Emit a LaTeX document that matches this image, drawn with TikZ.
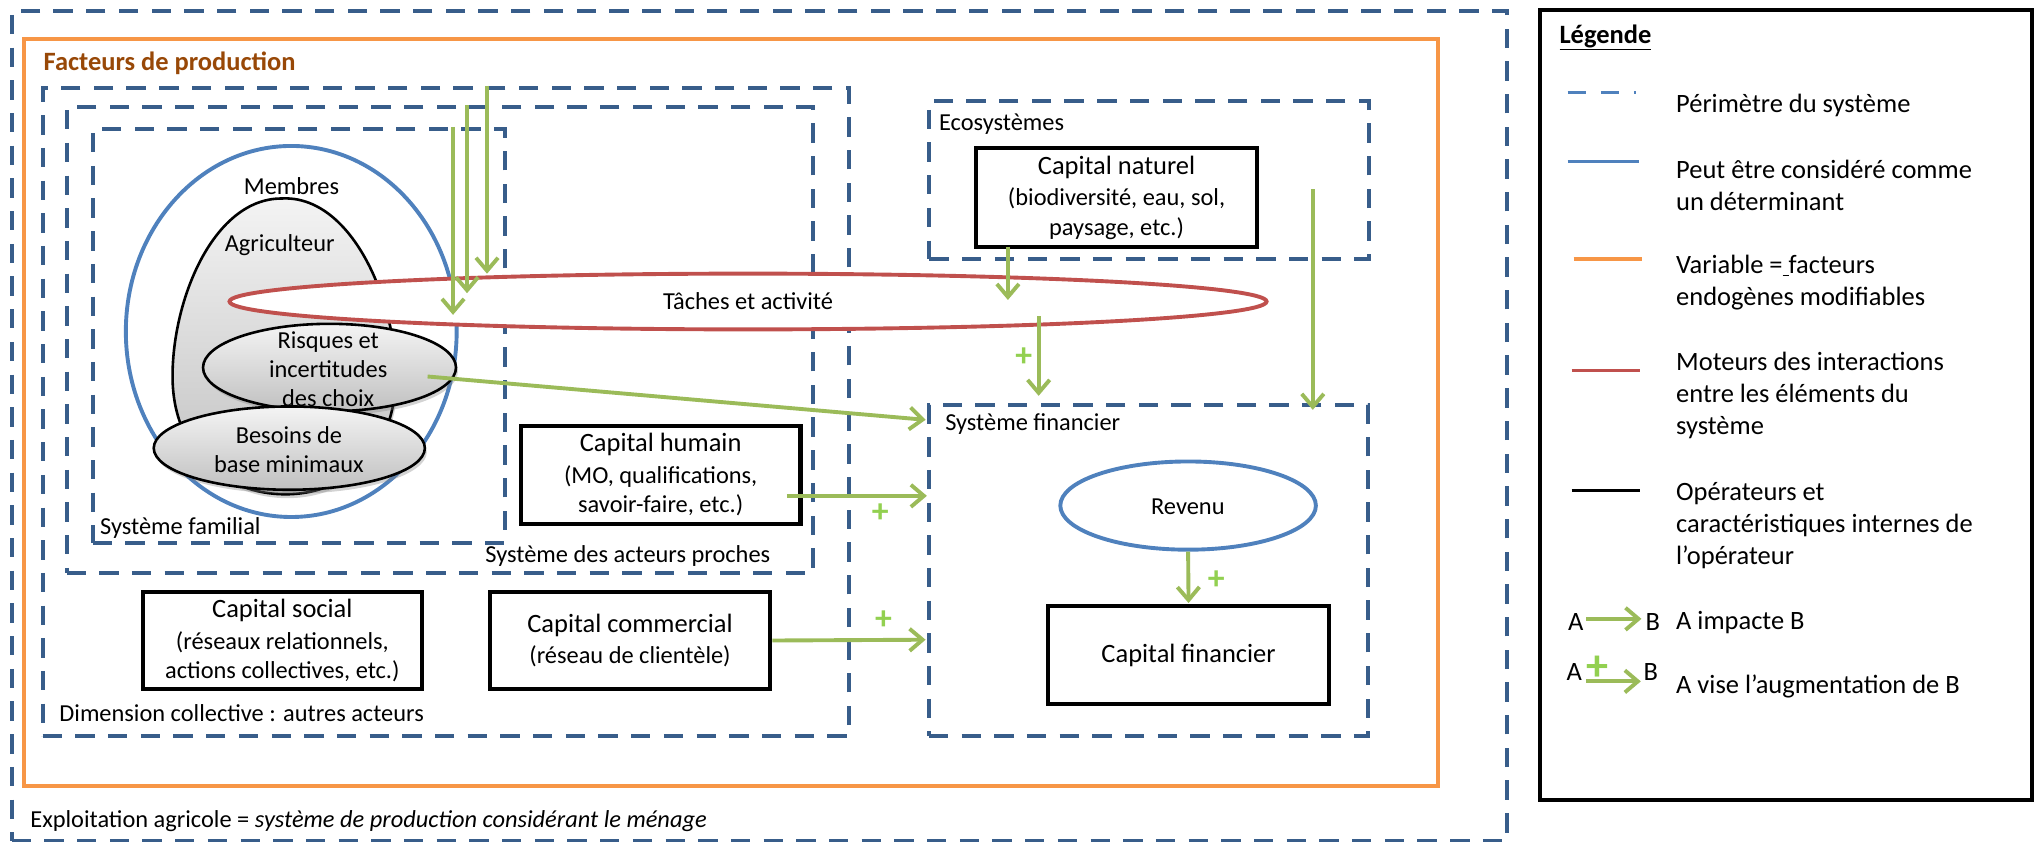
\documentclass[tikz,border=0pt]{standalone}
\usepackage{fontspec}
\setmainfont{Carlito}
\usetikzlibrary{arrows.meta,shapes.geometric,calc,shadows}
\definecolor{navy}{RGB}{56,93,138}
\definecolor{blueE}{RGB}{79,129,189}
\definecolor{orangeF}{RGB}{247,150,70}
\definecolor{redM}{RGB}{192,80,77}
\definecolor{greenA}{RGB}{155,187,89}
\definecolor{plusG}{RGB}{146,208,80}
\definecolor{brownT}{RGB}{152,72,7}
\definecolor{gTop}{RGB}{244,244,244}
\definecolor{gBot}{RGB}{192,192,192}
\newcommand\ttlf{\fontsize{20.4}{24}\selectfont}
\newcommand\subf{\fontsize{18.8}{22.5}\selectfont}
\newcommand\legf{\fontsize{20.4}{24.6}\selectfont}
\tikzset{
  dbox/.style={rectangle, draw=navy, line width=3.1pt, dash pattern=on 14.9pt off 10.3pt, inner sep=0pt},
  bbox/.style={rectangle, draw=black, line width=3.2pt, fill=white, inner sep=0pt, align=center, font=\subf},
  gshadow/.style={drop shadow={shadow xshift=1.5pt, shadow yshift=-3pt, opacity=0.35}},
  gell/.style={ellipse, draw=black, line width=2pt, top color=gTop, bottom color=gBot, inner sep=0pt, gshadow},
  garr/.style={draw=greenA, line width=3pt, -{Straight Barb[length=10pt,width=17pt]}},
  plussign/.style={text=plusG, inner sep=0pt, font=\fontsize{26}{26}\selectfont\bfseries},
  lbl/.style={inner sep=0pt, font=\subf},
  legtxt/.style={inner sep=0pt, anchor=west, align=left, font=\legf},
}
\begin{document}
\begin{tikzpicture}[x=1pt,y=-1pt]
\useasboundingbox (0,0) rectangle (1568.6,649);
% ---- frames
\node[dbox, minimum width=1152.4pt, minimum height=640.3pt] (outer) at (585.2,328.35) {};
\node[rectangle, draw=orangeF, line width=2.7pt, minimum width=1090.1pt, minimum height=576pt, inner sep=0pt] (fact) at (563.55,318) {};
\node[dbox, minimum width=621.3pt, minimum height=500.1pt] (dim) at (343.55,317.55) {};
\node[dbox, minimum width=575.4pt, minimum height=359pt] (sap) at (339,262.2) {};
\node[dbox, minimum width=317.5pt, minimum height=319.3pt] (sfam) at (230.25,258.95) {};
\node[dbox, minimum width=338.6pt, minimum height=122.2pt] (eco) at (885.7,138.7) {};
\node[dbox, minimum width=338.5pt, minimum height=255.6pt] (sfin) at (885.25,439.8) {};
\node[rectangle, draw=black, line width=2.8pt, minimum width=379.5pt, minimum height=608.7pt, inner sep=0pt] (leg) at (1376.75,312.05) {};
% ---- family system
\node[ellipse, draw=blueE, line width=3pt, minimum width=255pt, minimum height=286pt, inner sep=0pt] (memb) at (224.5,255.5) {};
\path[draw=black, line width=2pt, top color=gTop, bottom color=gBot, gshadow]
  (217,153) .. controls (270,150) and (305,230) .. (305,290)
  .. controls (305,350) and (265,381) .. (220,381)
  .. controls (175,381) and (133,350) .. (133,290)
  .. controls (133,230) and (165,153) .. (217,153) -- cycle;
\node[lbl] (tmemb) at (224.7,143.5) {Membres};
\node[lbl] (tagri) at (215.6,189) {Agriculteur};
\node[ellipse, draw=redM, line width=3pt, fill=white, minimum width=799.4pt, minimum height=43pt, inner sep=0pt, font=\subf] (taches) at (576.6,232.4) {T\^aches et activit\'e};
\node[gell, minimum width=195pt, minimum height=67.4pt] (risk) at (254,283.3) {};
\node[lbl, align=center] (trisk) at (253,284.5) {Risques et\\incertitudes\\des choix};
\node[gell, minimum width=209pt, minimum height=64.2pt] (bes) at (223,345.4) {};
\node[lbl, align=center] (tbes) at (222.7,346.7) {Besoins de\\base minimaux};
% ---- capital boxes
\node[bbox, minimum width=216.3pt, minimum height=75.8pt] (cn) at (860.65,152.2) {{\ttlf Capital naturel}\\[2pt](biodiversité, eau, sol,\\paysage, etc.)};
\node[bbox, minimum width=215.5pt, minimum height=75.8pt] (ch) at (509.25,366.1) {{\ttlf Capital humain}\\[2pt](MO, qualifications,\\savoir-faire, etc.)};
\node[bbox, minimum width=215.5pt, minimum height=74.2pt] (cs) at (217.65,493.7) {{\ttlf Capital social}\\[2pt](réseaux relationnels,\\actions collectives, etc.)};
\node[bbox, minimum width=216.4pt, minimum height=74.2pt] (cc) at (485.6,493.7) {{\ttlf Capital commercial}\\[2pt](réseau de clientèle)};
\node[bbox, minimum width=216.5pt, minimum height=75pt, font=\ttlf] (cf) at (916.15,504.9) {Capital financier};
\node[ellipse, draw=blueE, line width=3pt, fill=white, minimum width=197pt, minimum height=68pt, inner sep=0pt] (rev) at (915.8,389.7) {};
\node[lbl] (trev) at (915.6,390.5) {Revenu};
% ---- labels
\node[inner sep=0pt, anchor=west, text=brownT, font=\ttlf\bfseries] (tfact) at (33.4,48.8) {Facteurs de production};
\node[lbl, anchor=west] (tsfam) at (77,407) {Système familial};
\node[lbl] (tsap) at (483.9,428.9) {Système des acteurs proches};
\node[lbl, anchor=west] (tdim) at (45.6,549.6) {Dimension collective : autres acteurs};
\node[lbl, anchor=west] (teco) at (723.7,95.5) {Ecosystèmes};
\node[lbl, anchor=west] (tsfin) at (728.4,326.7) {Système financier};
\node[lbl, anchor=west] (texp) at (23.2,633) {Exploitation agricole = \textit{système de production considérant le ménage}};
% ---- arrows
\coordinate (t1) at (349.2,242.7);
\coordinate (t2) at (360,226);
\coordinate (t3) at (375.4,211);
\draw[garr] (t1 |- sfam.north) -- (t1);
\draw[garr] (t2 |- sap.north) -- (t2);
\draw[garr] (t3 |- dim.north) -- (t3);
\coordinate (rs) at ($(risk.center)+(75.6,6.9)$);
\draw[garr] (rs) -- ($(sfin.west)+(-1,-116.2)$);
\coordinate (hs) at ($(ch.east)+(-12,16.1)$);
\draw[garr] (hs) -- (hs -| sfin.west);
\draw[garr] (cc.east) -- ($(sfin.west)+(-1,53.3)$);
\coordinate (ns) at (776.9,190.1);
\draw[garr] (ns) -- (776.9,231.2);
\coordinate (ts) at (800.6,243.9);
\draw[garr] (ts) -- (800.6,305.1);
\coordinate (es) at (1011.9,145.9);
\draw[garr] (es) -- (1011.9,315.9);
\draw[garr] (rev.south) -- ($(cf.north)+(0,-1)$);
\node[plussign] (p1) at (678.6,395.5) {+};
\node[plussign] (p2) at (681,477.7) {+};
\node[plussign] (p3) at (789.2,275.6) {+};
\node[plussign] (p4) at (937.6,446.9) {+};
% ---- legend
\node[inner sep=0pt, anchor=west, font=\legf\bfseries] (tleg) at (1201.9,29) {\underline{Légende}};
\draw[blueE, line width=2.6pt, dash pattern=on 14pt off 11.5pt] (1208.4,71.4) -- (1261,71.4);
\node[legtxt] (l1) at (1291.8,80.9) {Périmètre du système};
\draw[blueE, line width=2.6pt] (1208.4,124.5) -- (1263,124.5);
\node[legtxt] (l2) at (1291.8,143.2) {Peut être considéré comme\\un déterminant};
\draw[orangeF, line width=2.6pt] (1213,199.5) -- (1266,199.5);
\node[legtxt] (l3) at (1291.8,218) {Variable =\underline{\ }facteurs\\endogènes modifiables};
\draw[redM, line width=2.6pt] (1211.5,285.6) -- (1264.4,285.6);
\node[legtxt] (l4) at (1291.8,305) {Moteurs des interactions\\entre les éléments du\\système};
\draw[black, line width=2.6pt] (1211.5,378) -- (1264.4,378);
\node[legtxt] (l5) at (1291.8,405) {Opérateurs et\\caractéristiques internes de\\l’opérateur};
\node[inner sep=0pt, font=\legf] (la1) at (1214.7,479.5) {A};
\node[inner sep=0pt, font=\legf] (lb1) at (1274,479.5) {B};
\draw[garr] ($(la1.east)+(2,-2.5)$) -- ($(lb1.west)+(-3,-2.5)$);
\node[legtxt] (l6) at (1291.8,479.5) {A impacte B};
\node[inner sep=0pt, font=\legf] (la2) at (1213.5,518) {A};
\node[inner sep=0pt, font=\legf] (lb2) at (1272.5,518) {B};
\node[plussign, font=\fontsize{34}{34}\selectfont\bfseries] (lp) at (1231.5,515) {+};
\draw[garr] ($(la2.east)+(3,7.2)$) -- ($(lb2.west)+(-2,7.2)$);
\node[legtxt] (l7) at (1291.8,529) {A vise l’augmentation de B};
\end{tikzpicture}
\end{document}
